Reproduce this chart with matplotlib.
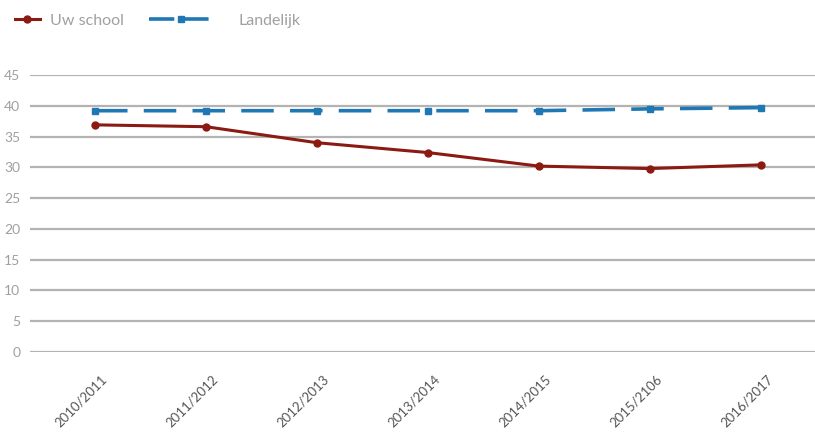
import matplotlib
matplotlib.use("Agg")
import matplotlib.pyplot as plt
import matplotlib.transforms as mtransforms
from matplotlib.lines import Line2D

plt.rcParams['font.family'] = ['Lato', 'DejaVu Sans']

categories = ["2010/2011", "2011/2012", "2012/2013", "2013/2014", "2014/2015", "2015/2106", "2016/2017"]
uw_school = [36.9, 36.6, 34.0, 32.4, 30.2, 29.8, 30.4]
landelijk = [39.2, 39.2, 39.2, 39.2, 39.2, 39.5, 39.7]
yticks = [0, 5, 10, 15, 20, 25, 30, 35, 40, 45]

red = "#8b1a12"
blue = "#1f78b4"
grey_text = "#a0a0a0"
grid_col = "#b3b3b3"

fig = plt.figure(figsize=(8.15, 4.36), dpi=100)
ax = fig.add_axes([30/815, 84/436, 785/815, (352-75)/436])

x = list(range(len(categories)))
for t in yticks:
    ax.axhline(t, color=grid_col, lw=1.6, zorder=1)

dash = (0, (9, 4.5))
ax.plot(x, uw_school, color=red, lw=2.2, marker='o', ms=5, zorder=3)
ax.plot(x, landelijk, color=blue, lw=2.6, ls=dash, marker='s', ms=5, zorder=3)

ax.set_xlim(-0.586, 6.49)
ax.set_ylim(0, 45)
for s in ax.spines.values():
    s.set_visible(False)
ax.set_yticks(yticks)
ax.set_yticklabels([str(t) for t in yticks], color=grey_text, fontsize=10)
ax.tick_params(axis='y', length=0, pad=7)
ax.set_xticks(x)
ax.set_xticklabels(categories, rotation=45, ha='right', rotation_mode='anchor',
                   color="#555555", fontsize=9.5)
ax.tick_params(axis='x', length=0, pad=15)
offset = mtransforms.ScaledTranslation(6/100, 0, fig.dpi_scale_trans)
for lab in ax.get_xticklabels():
    lab.set_transform(lab.get_transform() + offset)

h1 = Line2D([], [], color=red, lw=2.2, marker='o', ms=5)
h2 = Line2D([], [], color=blue, lw=2.6, ls=(0, (7, 2.5)), marker='s', ms=5)
leg1 = fig.legend([h1], ["Uw school"], loc='center left', bbox_to_anchor=(0.012, 0.953),
                  frameon=False, fontsize=11.5, handlelength=1.6, handletextpad=0.6,
                  borderaxespad=0, borderpad=0.3)
leg2 = fig.legend([h2], ["Landelijk"], loc='center left', bbox_to_anchor=(0.177, 0.953),
                  frameon=False, fontsize=11.5, handlelength=4.0, handletextpad=1.6,
                  borderaxespad=0, borderpad=0.3)
for leg in (leg1, leg2):
    for txt in leg.get_texts():
        txt.set_color(grey_text)

fig.savefig("out.png", dpi=100)
